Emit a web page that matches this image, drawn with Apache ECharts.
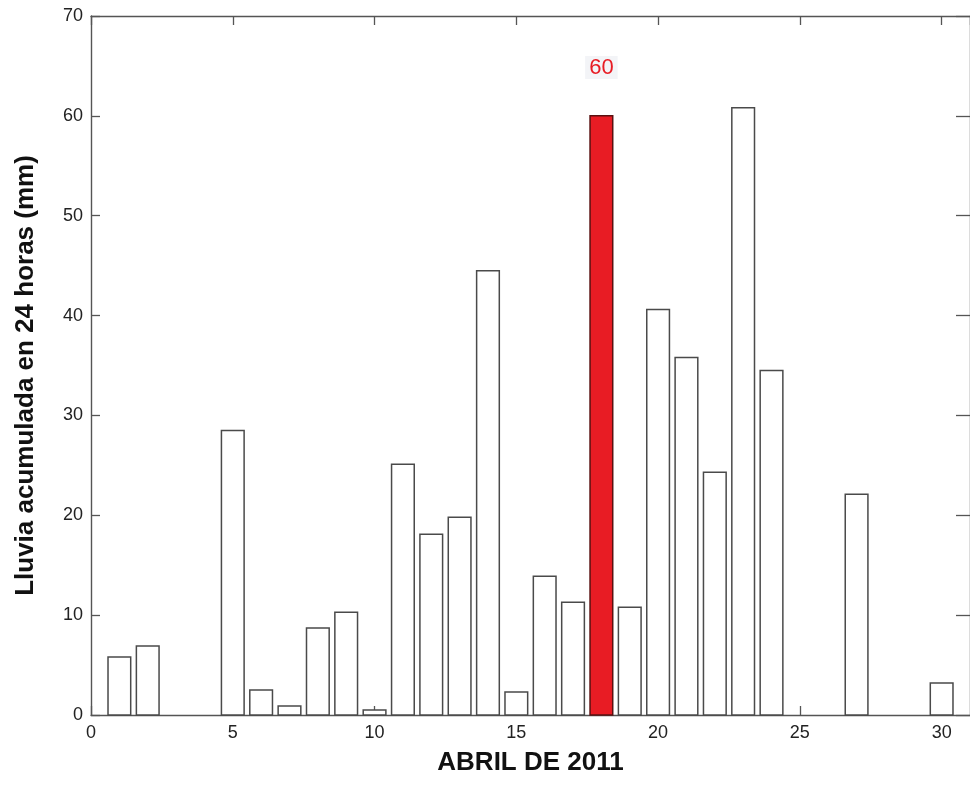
<!DOCTYPE html>
<html>
<head>
<meta charset="utf-8">
<title>Lluvia acumulada - Abril 2011</title>
<script src="https://cdn.jsdelivr.net/npm/echarts@6/dist/echarts.min.js"></script>
<style>
  html, body { margin: 0; padding: 0; background: #ffffff; }
  #chart { width: 970px; height: 787px; }
</style>
</head>
<body>
<div id="chart"></div>
<script>
// Daily rainfall, April 2011 (days with no rain are omitted)
const days      = [1,   2,   5,    6,   7,   8,   9,    10,  11,   12,   13,   14,   15,  16,   17,   18, 19,   20,   21,   22,   23,   24,   27,   30];
const rainfall  = [5.8, 6.9, 28.5, 2.5, 0.9, 8.7, 10.3, 0.5, 25.1, 18.1, 19.8, 44.5, 2.3, 13.9, 11.3, 60, 10.8, 40.6, 35.8, 24.3, 60.8, 34.5, 22.1, 3.2];
const highlightDay = 18;
const xTicks = [0, 5, 10, 15, 20, 25, 30];
const yTicks = [0, 10, 20, 30, 40, 50, 60, 70];

const BAR_W = 0.8;           // bar width in days
const FONT = '"Liberation Sans", Arial, Helvetica, sans-serif';
const AXIS_COLOR = '#555555';

const chart = echarts.init(document.getElementById('chart'), null, { renderer: 'canvas' });

const seriesData = days.map((d, i) => [d, rainfall[i]]);

function renderBar(params, api) {
  const x = api.value(0);
  const y = api.value(1);
  const top = api.coord([x, y]);
  const base = api.coord([x, 0]);
  const w = api.size([BAR_W, 0])[0];
  const isHi = x === highlightDay;
  const el = {
    type: 'rect',
    shape: { x: top[0] - w / 2, y: top[1], width: w, height: base[1] - top[1] },
    style: {
      fill: isHi ? '#e81c24' : '#ffffff',
      stroke: isHi ? '#5a1010' : '#4a4a4a',
      lineWidth: 1.5
    }
  };
  if (isHi) {
    el.textContent = {
      style: {
        text: String(y),
        fill: '#e81c24',
        font: '22px ' + FONT,
        backgroundColor: '#f3f4f7',
        padding: [1, 4, 0, 4]
      }
    };
    el.textConfig = { position: 'top', distance: 36 };
  }
  return el;
}

const tickFmt = (list) => (v) => (list.indexOf(v) >= 0 ? String(v) : '');

function frameAxis(extra, tickLen) {
  return Object.assign({
    axisLine: { show: true, onZero: false, lineStyle: { color: AXIS_COLOR, width: 1.4 } },
    axisTick: { show: true, inside: true, length: tickLen || 9, lineStyle: { color: AXIS_COLOR, width: 1.3 } },
    splitLine: { show: false }
  }, extra);
}

const option = {
  backgroundColor: '#ffffff',
  animation: false,
  grid: { left: 91, top: 16, width: 886, height: 699, containLabel: false },
  xAxis: [
    frameAxis({
      type: 'value', position: 'bottom', min: 0, max: 31, interval: 5,
      name: 'ABRIL DE 2011', nameLocation: 'middle', nameGap: 35,
      nameTextStyle: { fontFamily: FONT, fontSize: 26, fontWeight: 'bold', color: '#111111' },
      axisLabel: { show: true, margin: 9, fontFamily: FONT, fontSize: 18, color: '#222222', formatter: tickFmt(xTicks), showMaxLabel: false }
    }),
    frameAxis({
      type: 'value', position: 'top', min: 0, max: 31, interval: 5,
      axisLabel: { show: false }
    })
  ],
  yAxis: [
    frameAxis({
      type: 'value', position: 'left', min: 0, max: 70, interval: 10,
      name: 'Lluvia acumulada en 24 horas (mm)', nameLocation: 'middle', nameGap: 52, nameRotate: 90,
      nameTextStyle: { fontFamily: FONT, fontSize: 26, fontWeight: 'bold', color: '#111111', padding: [0, 0, 0, -20] },
      axisLabel: { show: true, margin: 8, fontFamily: FONT, fontSize: 18, color: '#222222', formatter: tickFmt(yTicks) }
    }),
    frameAxis({
      type: 'value', position: 'right', min: 0, max: 70, interval: 10,
      axisLabel: { show: false }
    }, 14)
  ],
  series: [{
    type: 'custom',
    xAxisIndex: 0,
    yAxisIndex: 0,
    renderItem: renderBar,
    encode: { x: 0, y: 1 },
    data: seriesData,
    clip: false
  }]
};

chart.setOption(option);
</script>
</body>
</html>
